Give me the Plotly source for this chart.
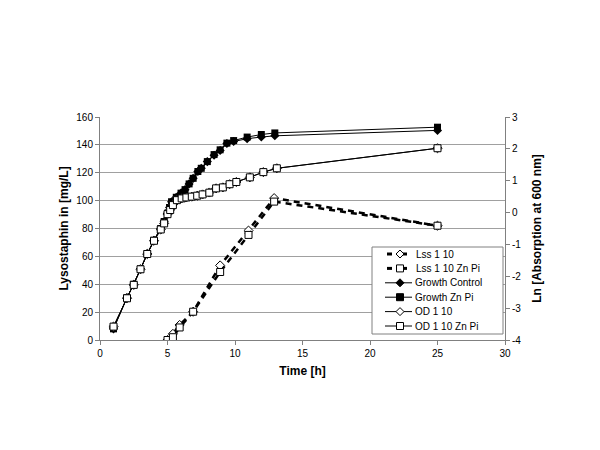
import plotly.graph_objects as go

# Lysostaphin (left axis, mg/L)
lss_t = [5, 5.4, 5.9, 6.9, 8.9, 11, 12.9, 25]
lss_1_10 = [0, 4.4, 10.8, 20.3, 53.5, 78.5, 101.8, 82]
lss_zn = [0, 2, 9, 20.3, 48.8, 75.4, 99.3, 82]

# Growth (right axis, ln absorption)
gr_t = [1, 2, 2.5, 3, 3.5, 4, 4.5, 4.75, 5, 5.15, 5.3, 5.65, 6.0, 6.3, 6.6, 6.9,
        7.25, 7.5, 7.95, 8.45, 8.9, 9.4, 9.9, 10.9, 11.95, 12.95, 25]
gr_control = [-3.65, -2.67, -2.25, -1.77, -1.29, -0.87, -0.5, -0.28, -0.02, 0.16, 0.34,
              0.48, 0.61, 0.72, 0.90, 1.075, 1.29, 1.39, 1.60, 1.80, 1.95, 2.17, 2.23,
              2.32, 2.37, 2.41, 2.58]
gr_zn = [-3.65, -2.67, -2.25, -1.77, -1.29, -0.87, -0.5, -0.28, -0.02, 0.16, 0.34,
         0.48, 0.61, 0.72, 0.90, 1.075, 1.29, 1.39, 1.60, 1.82, 1.97, 2.18, 2.26,
         2.37, 2.45, 2.50, 2.68]

# OD (right axis, ln absorption)
od_t = [1, 2, 2.5, 3, 3.5, 4, 4.5, 4.75, 5, 5.2, 5.4, 5.7, 6.05, 6.4, 6.8, 7.2, 7.6,
        8.1, 8.6, 9.1, 9.6, 10.1, 11.1, 12.1, 13.1, 25]
od_1_10 = [-3.58, -2.69, -2.27, -1.78, -1.30, -0.885, -0.53, -0.34, -0.05, 0.09, 0.25,
           0.39, 0.445, 0.475, 0.50, 0.53, 0.57, 0.63, 0.76, 0.79, 0.89, 0.96, 1.105,
           1.27, 1.39, 2.02]
od_zn = [-3.58, -2.69, -2.27, -1.78, -1.30, -0.885, -0.53, -0.34, -0.05, 0.08, 0.235,
         0.39, 0.445, 0.475, 0.50, 0.53, 0.57, 0.625, 0.76, 0.79, 0.89, 0.96, 1.105,
         1.27, 1.39, 2.02]

# Tick labels
x_ticks = [0, 5, 10, 15, 20, 25, 30]
y_ticks = [0, 20, 40, 60, 80, 100, 120, 140, 160]
y2_ticks = [-4, -3, -2, -1, 0, 1, 2, 3]
y2_labels = ["-4", "-3", "-2", "-1", "0", "1", "2", "3"]

FONT = "Liberation Sans, Arial, sans-serif"

fig = go.Figure()

lss_line = dict(color="black", width=2.5, dash="6px,5px")


def open_marker(sym):
    return dict(symbol=sym, size=7, color="white", line=dict(color="black", width=1))


series = [
    dict(name="Lss 1 10", x=lss_t, y=lss_1_10, axis="y", line=lss_line,
         marker=open_marker("diamond"), dashed=True, sym="diamond", fill="white"),
    dict(name="Lss 1 10 Zn Pi", x=lss_t, y=lss_zn, axis="y", line=lss_line,
         marker=open_marker("square"), dashed=True, sym="square", fill="white"),
    dict(name="Growth Control", x=gr_t, y=gr_control, axis="y2",
         line=dict(color="black", width=1),
         marker=dict(symbol="diamond", size=7, color="black"), dashed=False,
         sym="diamond", fill="black"),
    dict(name="Growth Zn Pi", x=gr_t, y=gr_zn, axis="y2",
         line=dict(color="black", width=1),
         marker=dict(symbol="square", size=7, color="black"), dashed=False,
         sym="square", fill="black"),
    dict(name="OD 1 10", x=od_t, y=od_1_10, axis="y2",
         line=dict(color="black", width=1),
         marker=open_marker("diamond"), dashed=False, sym="diamond", fill="white"),
    dict(name="OD 1 10 Zn Pi", x=od_t, y=od_zn, axis="y2",
         line=dict(color="black", width=1),
         marker=open_marker("square"), dashed=False, sym="square", fill="white"),
]

for s in series:
    fig.add_trace(go.Scatter(x=s["x"], y=s["y"], name=s["name"], mode="lines+markers",
                             yaxis=s["axis"], line=s["line"], marker=s["marker"],
                             showlegend=False))

# ---- compact legend box (Excel style), drawn in paper coordinates ----
PLOT_L, PLOT_T, PLOT_W, PLOT_H = 100, 117, 405, 223  # page pixel geometry of plot area


def px(x):
    return (x - PLOT_L) / PLOT_W


def py(y):
    return (PLOT_T + PLOT_H - y) / PLOT_H


shapes = [dict(type="rect", xref="paper", yref="paper", x0=px(372), x1=px(503),
               y0=py(334), y1=py(247), fillcolor="white",
               line=dict(color="#808080", width=1), layer="above")]
annotations = []
row_y0, row_step = 254, 14.4
for i, s in enumerate(series):
    yc = row_y0 + i * row_step
    mx = 400
    if s["dashed"]:
        for a, b in [(387, 392), (403, 407)]:
            shapes.append(dict(type="line", xref="paper", yref="paper", x0=px(a), x1=px(b),
                               y0=py(yc), y1=py(yc), line=dict(color="black", width=3),
                               layer="above"))
        tx = 414
    else:
        shapes.append(dict(type="line", xref="paper", yref="paper", x0=px(385), x1=px(412),
                           y0=py(yc), y1=py(yc), line=dict(color="black", width=1),
                           layer="above"))
        tx = 413
    if s["sym"] == "square":
        shapes.append(dict(type="rect", xref="paper", yref="paper",
                           x0=px(mx - 3.5), x1=px(mx + 3.5), y0=py(yc + 3.5), y1=py(yc - 3.5),
                           fillcolor=s["fill"], line=dict(color="black", width=1),
                           layer="above"))
    else:
        path = "M {} {} L {} {} L {} {} L {} {} Z".format(
            px(mx - 4), py(yc), px(mx), py(yc - 4), px(mx + 4), py(yc), px(mx), py(yc + 4))
        shapes.append(dict(type="path", xref="paper", yref="paper", path=path,
                           fillcolor=s["fill"], line=dict(color="black", width=1),
                           layer="above"))
    annotations.append(dict(text=s["name"], xref="paper", yref="paper", x=px(tx), y=py(yc),
                            xanchor="left", yanchor="middle", showarrow=False,
                            font=dict(family=FONT, size=10, color="black")))

axis_font = dict(family=FONT, size=10, color="black")
title_font = dict(family=FONT, size=12, color="black")

fig.update_layout(
    width=600, height=450,
    margin=dict(l=92, r=103, t=109, b=118),
    paper_bgcolor="white", plot_bgcolor="white",
    font=axis_font,
    xaxis=dict(range=[0, 30], tickvals=x_ticks, showgrid=False, showline=True,
               linecolor="#808080", linewidth=1, ticks="outside", ticklen=4,
               tickcolor="#808080", zeroline=False,
               title=dict(text="<b>Time [h]</b>", font=title_font, standoff=8)),
    yaxis=dict(range=[0, 160], tickvals=y_ticks, showgrid=True, gridcolor="#a0a0a0",
               showline=True, linecolor="#808080", ticks="outside", ticklen=4,
               tickcolor="#808080", zeroline=False,
               title=dict(text="<b>Lysostaphin in [mg/L]</b>", font=title_font, standoff=5)),
    yaxis2=dict(range=[-4, 3], tickvals=y2_ticks, ticktext=y2_labels, overlaying="y",
                side="right", showgrid=False,
                showline=True, linecolor="#808080", ticks="outside", ticklen=4,
                tickcolor="#808080", zeroline=False,
                title=dict(text="<b>Ln [Absorption at 600 nm]</b>", font=title_font, standoff=12)),
    shapes=shapes,
    annotations=annotations,
    showlegend=False,
)

fig.write_html("out.html")
